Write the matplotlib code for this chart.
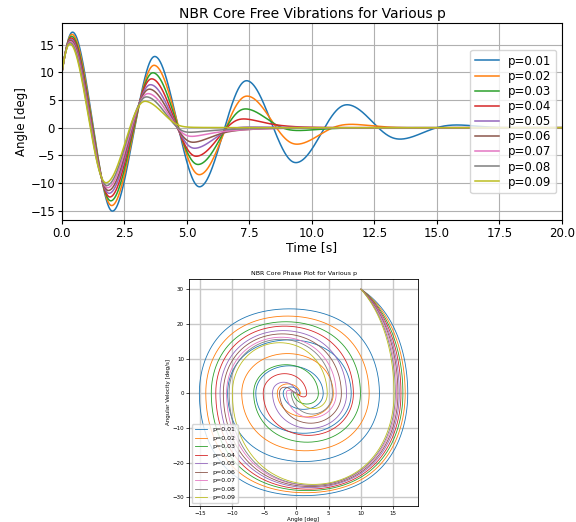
import matplotlib
matplotlib.use("Agg")
import matplotlib.pyplot as plt
import numpy as np

# friction parameter p and values
p_values = [0.01, 0.02, 0.03, 0.04, 0.05, 0.06, 0.07, 0.08, 0.09]
offset_deg = [1.1, 1.4, 1.65, 1.85, 2.05, 2.2, 2.35, 2.45, 2.6]     # half the drop per swing
stiffness = [2.18, 2.38, 2.59, 2.79, 2.97, 3.13, 3.3, 3.5, 3.69]    # rad^2/s^2
hardening = 0.0088      # 1/(deg^2 s^2)
slip_vel = 1.5          # deg/s
theta0 = 10.0           # deg
omega0 = 30.0           # deg/s
t_end = 20.0
dt = 0.0005


def simulate(a, d):
    n = int(t_end / dt) + 1
    th_out = np.zeros(n)
    v_out = np.zeros(n)
    th, v = theta0, omega0
    for i in range(n):
        th_out[i] = th
        v_out[i] = v
        u = th + d * np.tanh(v / slip_vel)
        acc = -(a * u + hardening * u ** 3)
        v = v + acc * dt
        th = th + v * dt
    return np.arange(n) * dt, th_out, v_out


runs = [simulate(a, d) for a, d in zip(stiffness, offset_deg)]

fig = plt.figure(figsize=(5.76, 5.22), dpi=100)

# free vibrations
ax1 = fig.add_axes([0.1076, 0.5785, 0.868, 0.377])
for p, (t, th, v) in zip(p_values, runs):
    ax1.plot(t, th, lw=1.1, label=f"p={p:.2f}")
ax1.set_xlim(0, 20)
ax1.set_title("NBR Core Free Vibrations for Various p", fontsize=10, pad=4)
ax1.set_xlabel("Time [s]", fontsize=9, labelpad=1)
ax1.set_ylabel("Angle [deg]", fontsize=8.5, labelpad=2)
ax1.tick_params(labelsize=8.5, length=3, pad=2)
ax1.grid(True)
ax1.legend(loc="center right", fontsize=8.5, labelspacing=0.18)

# phase plot
ax2 = fig.add_axes([0.328, 0.0307, 0.398, 0.435])
for p, (t, th, v) in zip(p_values, runs):
    ax2.plot(th, v, lw=0.6, label=f"p={p:.2f}")
ax2.set_title("NBR Core Phase Plot for Various p", fontsize=4.5, pad=3)
ax2.set_xlabel("Angle [deg]", fontsize=4, labelpad=1)
ax2.set_ylabel("Angular Velocity [deg/s]", fontsize=4, labelpad=1)
ax2.tick_params(labelsize=4, length=2, pad=1.5, width=0.5)
for sp in ax2.spines.values():
    sp.set_linewidth(0.6)
ax2.grid(True, lw=1.0, color="#c8c8c8")
ax2.legend(loc="lower left", fontsize=4.5)

fig.savefig("out.png", dpi=100)
